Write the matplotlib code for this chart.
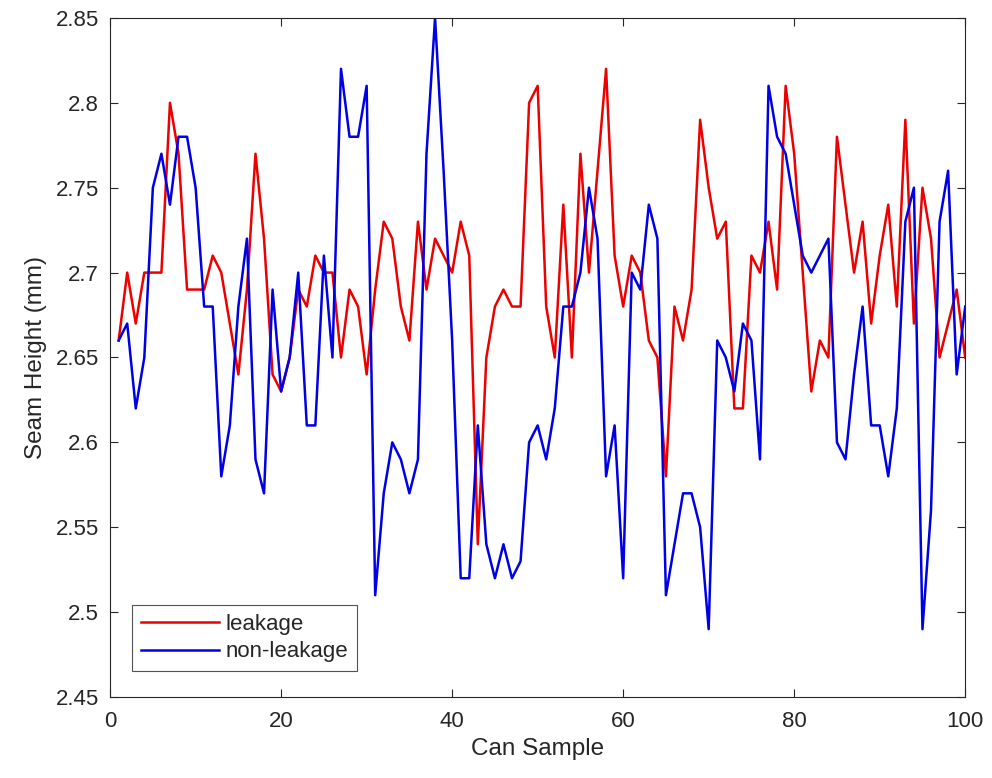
import matplotlib
matplotlib.use("Agg")
import matplotlib.pyplot as plt
import numpy as np

# seam height per can sample
samples = np.arange(1, 101)

leakage = [
    2.66, 2.70, 2.67, 2.70, 2.70, 2.70, 2.80, 2.77, 2.69, 2.69,
    2.69, 2.71, 2.70, 2.67, 2.64, 2.69, 2.77, 2.72, 2.64, 2.63,
    2.65, 2.69, 2.68, 2.71, 2.70, 2.70, 2.65, 2.69, 2.68, 2.64,
    2.69, 2.73, 2.72, 2.68, 2.66, 2.73, 2.69, 2.72, 2.71, 2.70,
    2.73, 2.71, 2.54, 2.65, 2.68, 2.69, 2.68, 2.68, 2.80, 2.81,
    2.68, 2.65, 2.74, 2.65, 2.77, 2.70, 2.76, 2.82, 2.71, 2.68,
    2.71, 2.70, 2.66, 2.65, 2.58, 2.68, 2.66, 2.69, 2.79, 2.75,
    2.72, 2.73, 2.62, 2.62, 2.71, 2.70, 2.73, 2.69, 2.81, 2.77,
    2.70, 2.63, 2.66, 2.65, 2.78, 2.74, 2.70, 2.73, 2.67, 2.71,
    2.74, 2.68, 2.79, 2.67, 2.75, 2.72, 2.65, 2.67, 2.69, 2.65,
]

non_leakage = [
    2.66, 2.67, 2.62, 2.65, 2.75, 2.77, 2.74, 2.78, 2.78, 2.75,
    2.68, 2.68, 2.58, 2.61, 2.68, 2.72, 2.59, 2.57, 2.69, 2.63,
    2.65, 2.70, 2.61, 2.61, 2.71, 2.65, 2.82, 2.78, 2.78, 2.81,
    2.51, 2.57, 2.60, 2.59, 2.57, 2.59, 2.77, 2.85, 2.76, 2.66,
    2.52, 2.52, 2.61, 2.54, 2.52, 2.54, 2.52, 2.53, 2.60, 2.61,
    2.59, 2.62, 2.68, 2.68, 2.70, 2.75, 2.72, 2.58, 2.61, 2.52,
    2.70, 2.69, 2.74, 2.72, 2.51, 2.54, 2.57, 2.57, 2.55, 2.49,
    2.66, 2.65, 2.63, 2.67, 2.66, 2.59, 2.81, 2.78, 2.77, 2.74,
    2.71, 2.70, 2.71, 2.72, 2.60, 2.59, 2.64, 2.68, 2.61, 2.61,
    2.58, 2.62, 2.73, 2.75, 2.49, 2.56, 2.73, 2.76, 2.64, 2.68,
]

x_ticks = [0, 20, 40, 60, 80, 100]
y_ticks = [2.45, 2.5, 2.55, 2.6, 2.65, 2.7, 2.75, 2.8, 2.85]
y_tick_labels = ["2.45", "2.5", "2.55", "2.6", "2.65", "2.7", "2.75", "2.8", "2.85"]

plt.rcParams["font.family"] = ["Liberation Sans", "DejaVu Sans"]
dark = "#262626"

fig = plt.figure(figsize=(9.92, 7.78), dpi=100)
ax = fig.add_axes([0.111, 0.104, 0.862, 0.873])

ax.plot(samples, leakage, color=(0.93, 0.0, 0.0), linewidth=1.8, label="leakage")
ax.plot(samples, non_leakage, color=(0.0, 0.0, 0.9), linewidth=1.8, label="non-leakage")

ax.set_xlim(0, 100)
ax.set_ylim(2.45, 2.85)
ax.set_xticks(x_ticks)
ax.set_yticks(y_ticks)
ax.set_yticklabels(y_tick_labels)

ax.tick_params(
    direction="in",
    top=True,
    right=True,
    length=6,
    width=0.8,
    color=dark,
    labelcolor=dark,
    labelsize=16,
    pad=8,
)
ax.tick_params(axis="x", pad=10)
for spine in ax.spines.values():
    spine.set_color(dark)
    spine.set_linewidth(0.8)

ax.set_xlabel("Can Sample", fontsize=17.5, color=dark, labelpad=4)
ax.set_ylabel("Seam Height (mm)", fontsize=17.5, color=dark, labelpad=6)

legend = ax.legend(
    loc="lower left",
    bbox_to_anchor=(0.026, 0.038),
    borderaxespad=0,
    fontsize=16,
    frameon=True,
    fancybox=False,
    handlelength=3.5,
    borderpad=0.4,
    labelspacing=0.3,
    handletextpad=0.3,
)
legend.get_frame().set_edgecolor(dark)
legend.get_frame().set_linewidth(0.8)
for text in legend.get_texts():
    text.set_color(dark)

fig.savefig("out.png", dpi=100)
